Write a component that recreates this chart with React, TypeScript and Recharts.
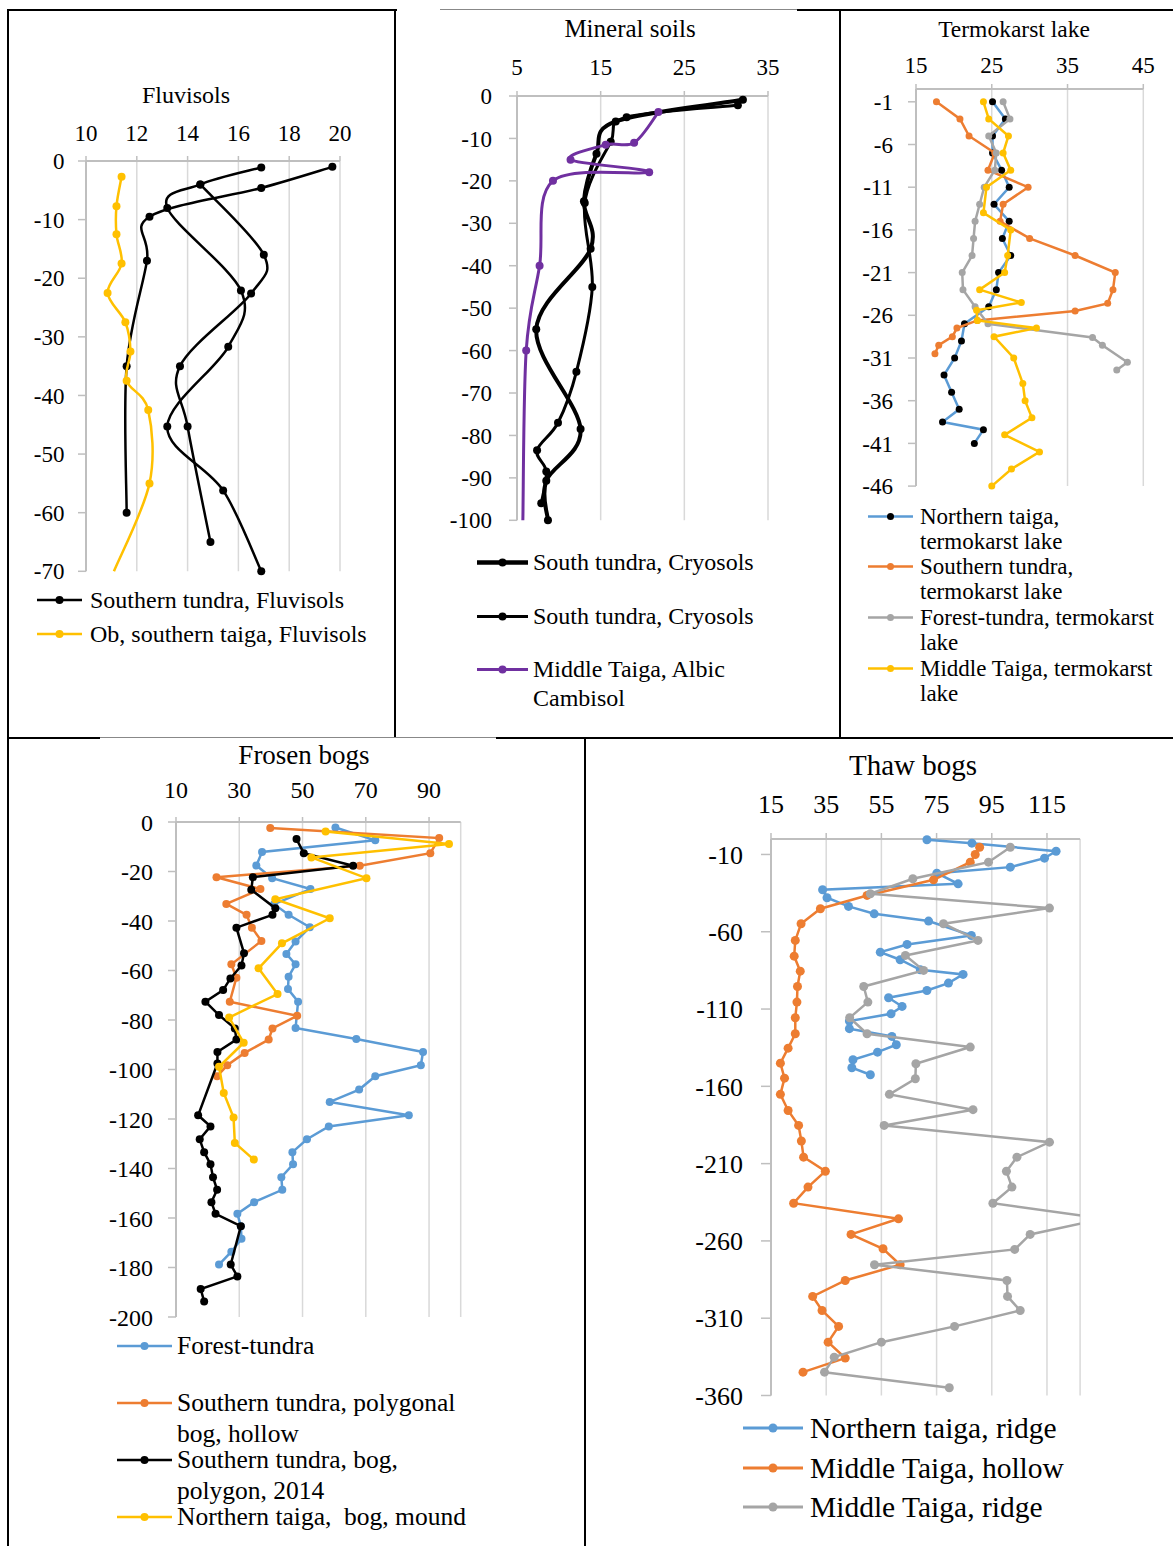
import React from 'react';
import { ScatterChart, Scatter, XAxis, YAxis, CartesianGrid } from 'recharts';

const FONT = '"Liberation Serif", "Times New Roman", serif';
const BLACK = '#000000';
const BLUE = '#5B9BD5';
const ORANGE = '#ED7D31';
const GRAY = '#A5A5A5';
const YELLOW = '#FFC000';
const PURPLE = '#7030A0';

// ---------- Fluvisols ----------
const fluvTicksX = [10, 12, 14, 16, 18, 20];
const fluvTicksY = [0, -10, -20, -30, -40, -50, -60, -70];
const fluvA_val = [19.7, 16.9, 12.5, 12.4, 11.6, 11.6];
const fluvA_dep = [-1, -4.6, -9.5, -17, -35, -60];
const fluvB_val = [16.9, 14.5, 13.2, 16.1, 15.6, 13.2, 15.4, 16.9];
const fluvB_dep = [-1.1, -4, -8, -22.1, -31.7, -45.3, -56.2, -70];
const fluvC_val = [14.5, 17.0, 16.5, 13.7, 14.0, 14.9];
const fluvC_dep = [-4, -16, -22.6, -35, -45.3, -65];
const fluvOb_val = [11.4, 11.2, 11.2, 11.4, 10.85, 11.55, 11.75, 11.6, 12.45, 12.5, 11.1];
const fluvOb_dep = [-2.7, -7.7, -12.5, -17.5, -22.5, -27.5, -32.5, -37.5, -42.5, -55, -70];

// ---------- Mineral soils ----------
const minTicksX = [5, 15, 25, 35];
const minTicksY = [0, -10, -20, -30, -40, -50, -60, -70, -80, -90, -100];
const minX_val = [32.0, 16.8, 14.5, 13.0, 13.8, 7.3, 12.6, 8.5, 8.7];
const minX_dep = [-0.9, -6.0, -13.6, -24.8, -36, -55, -78.5, -90.7, -100];
const minY_val = [31.4, 18.1, 16.2, 13.1, 14.0, 12.1, 9.9, 7.4, 8.5, 7.9];
const minY_dep = [-2.2, -5.0, -10.8, -25.2, -45, -65, -77, -83.5, -88.5, -96];
const minP_val = [21.9, 19.0, 15.6, 11.4, 20.8, 9.3, 7.7, 6.1, 5.7];
const minP_dep = [-3.8, -11, -11.5, -15, -18, -20, -40, -60, -100];

// ---------- Termokarst lake ----------
const tkTicksX = [15, 25, 35, 45];
const tkTicksY = [-1, -6, -11, -16, -21, -26, -31, -36, -41, -46];
const tkNorth_val = [25.1, 26.8, 25.1, 25.1, 26.3, 27.3, 25.3, 27.3, 26.4, 27.5, 25.9, 25.6, 24.6, 21.4, 21.0, 20.1, 18.7, 19.7, 20.7, 18.5, 23.9, 22.7];
const tkNorth_dep = [-1, -3, -5, -7, -9, -11, -13, -15, -17, -19, -21, -23, -25, -27, -29, -31, -33, -35, -37, -38.5, -39.4, -41];
const tkSouth_val = [17.7, 20.8, 22.0, 25.4, 24.5, 29.8, 26.5, 26.1, 30.0, 36.0, 41.3, 41.0, 40.3, 36.0, 23.1, 20.4, 19.8, 18.0, 17.5];
const tkSouth_dep = [-1, -3, -5, -7, -9, -11, -13, -15, -17, -19, -21, -23, -24.6, -25.5, -26.6, -27.5, -28.5, -29.5, -30.5];
const tkForest_val = [26.5, 27.4, 24.6, 25.6, 25.4, 24.0, 23.4, 22.8, 22.6, 22.4, 21.1, 21.2, 22.8, 24.5, 38.3, 39.6, 42.9, 41.5];
const tkForest_dep = [-1, -3, -5, -7, -9, -11, -13, -15, -17, -19, -21, -23, -25, -27, -28.6, -29.5, -31.5, -32.4];
const tkMiddle_val = [23.9, 24.6, 27.2, 26.5, 27.5, 24.3, 23.9, 27.5, 27.1, 26.7, 23.4, 28.9, 23.0, 23.1, 30.9, 25.3, 27.9, 29.1, 29.4, 30.3, 26.7, 31.3, 27.6, 25.0];
const tkMiddle_dep = [-1, -3, -5, -7, -9, -11, -14, -16, -19, -21, -23, -24.5, -25.4, -26.6, -27.5, -28.5, -31, -34, -36, -38, -40, -42, -44, -46];

// ---------- Frosen bogs ----------
const fbTicksX = [10, 30, 50, 70, 90];
const fbTicksY = [0, -20, -40, -60, -80, -100, -120, -140, -160, -180, -200];
const fbForest_val = [60.4, 73.0, 37.2, 35.4, 40.4, 52.5, 41.0, 45.6, 52.3, 47.8, 44.9, 47.8, 45.6, 45.4, 48.6, 47.8, 67.0, 88.1, 87.4, 73.0, 67.9, 58.6, 83.6, 58.3, 51.4, 46.8, 47.0, 43.3, 43.6, 34.7, 29.4, 30.5, 30.7, 27.5, 23.6];
const fbForest_dep = [-2.2, -7.4, -12.1, -17.6, -22.7, -27.1, -33.2, -37.5, -42.5, -48.3, -53.3, -57.5, -62.5, -67.5, -72.6, -83.2, -87.7, -92.9, -98.3, -102.7, -108.1, -113.1, -118.5, -123, -128.2, -133.4, -138.3, -143.5, -148.6, -153.6, -158.3, -163.3, -168.4, -173.6, -178.8];
const fbHollow_val = [39.8, 93.2, 90.4, 68.1, 22.8, 36.7, 25.9, 32.3, 34.0, 37.0, 27.5, 29.1, 27.0, 48.3, 40.5, 39.3, 31.7, 26.2, 23.0];
const fbHollow_dep = [-2.4, -6.5, -12.6, -17.7, -22.3, -27.1, -33.1, -37.5, -42.7, -48.1, -57.5, -62.9, -72.6, -78.3, -83.4, -87.9, -93.3, -98.3, -102.7];
const fbPolygon_val = [48.1, 50.4, 66.0, 34.3, 33.8, 41.4, 40.5, 29.1, 31.5, 30.7, 27.2, 24.9, 19.3, 23.6, 28.6, 29.1, 23.1, 23.1, 17.0, 20.9, 17.5, 18.9, 20.9, 21.7, 23.0, 21.2, 22.5, 30.5, 27.3, 29.4, 17.8, 18.9];
const fbPolygon_dep = [-6.9, -12.6, -17.7, -22.3, -27.4, -34.8, -37.5, -42.7, -53, -58, -63.2, -67.9, -72.6, -78, -83.4, -87.9, -92.9, -97.6, -118.5, -123, -128.2, -133.4, -138.3, -143.5, -148.6, -153.6, -158.3, -163.3, -178.8, -183.6, -188.7, -193.7];
const fbMound_val = [57.3, 96.3, 52.8, 70.2, 41.4, 58.6, 43.5, 36.1, 42.1, 26.8, 31.4, 23.6, 25.1, 28.2, 28.6, 34.6];
const fbMound_dep = [-3.8, -8.9, -14.3, -22.7, -31.2, -38.9, -49, -59.1, -69.5, -79, -89.2, -98.9, -109.5, -119.4, -129.7, -136.4];

// ---------- Thaw bogs ----------
const tbTicksX = [15, 35, 55, 75, 95, 115];
const tbTicksY = [-10, -60, -110, -160, -210, -260, -310, -360];
const tbRidgeN_val = [71.5, 87.8, 118.3, 114.1, 101.7, 75.1, 82.8, 33.7, 35.3, 43.1, 52.4, 72.1, 87.6, 64.3, 54.6, 61.8, 69.1, 84.6, 79.3, 71.5, 57.6, 62.5, 58.5, 43.4, 43.4, 58.8, 60.4, 53.6, 44.7, 44.3, 51.0];
const tbRidgeN_dep = [-0.5, -2.7, -7.9, -12.4, -18.2, -22.1, -29, -32.8, -38, -43.6, -48.4, -53.1, -62.4, -68.2, -73.2, -78.1, -84.6, -87.6, -93.2, -98, -102.7, -108.3, -113.1, -117.8, -122.7, -127.7, -133.1, -137.9, -142.8, -148, -152.5];
const tbHollow_val = [90.6, 89.0, 87.2, 73.9, 49.8, 32.9, 25.9, 23.8, 23.4, 25.6, 24.6, 24.4, 23.8, 23.8, 21.2, 18.4, 19.9, 18.4, 21.2, 25.0, 26.0, 26.8, 34.7, 28.4, 23.2, 61.2, 44.0, 55.6, 61.8, 41.9, 30.1, 33.5, 39.5, 35.7, 41.9, 26.6];
const tbHollow_dep = [-5.3, -10, -15, -26.4, -36.5, -45.1, -54.8, -65.6, -75.8, -85.5, -95.4, -105.5, -115.6, -126, -135.3, -145, -154.7, -165.2, -175.6, -185.3, -195.4, -205.8, -214.9, -225.2, -235.6, -245.7, -255.8, -265.1, -275.4, -285.6, -295.9, -305, -315.3, -325.5, -335.8, -344.9];
const tbRidgeM_val = [101.7, 93.8, 66.4, 51.0, 115.9, 77.5, 90.0, 63.7, 70.3, 48.6, 50.1, 43.5, 49.8, 87.2, 67.5, 67.3, 57.9, 88.2, 56.0, 115.9, 104.1, 100.3, 102.3, 95.4, 135.7, 108.9, 103.3, 52.5, 100.5, 100.7, 105.3, 81.5, 55.0, 37.9, 34.4, 79.6];
const tbRidgeM_dep = [-5.3, -15, -25.7, -35.4, -44.7, -54.8, -65.6, -75.3, -85, -95.4, -105.5, -115.6, -126, -134.6, -145.4, -155.1, -165.2, -175.1, -185.3, -196.1, -205.8, -214.9, -225.2, -235.6, -245.6, -255.8, -265.5, -275.4, -285.6, -295.9, -305, -315.3, -325.5, -335.2, -344.9, -355];

// Excel-like smoothed line (Catmull-Rom as cubic Bezier)
function excelSmooth(context: any) {
  let pts: number[][] = [];
  return {
    areaStart() {},
    areaEnd() {},
    lineStart() {
      pts = [];
    },
    lineEnd() {
      if (!pts.length) return;
      context.moveTo(pts[0][0], pts[0][1]);
      const t = 1 / 6;
      for (let i = 0; i < pts.length - 1; i++) {
        const p0 = pts[i - 1] || pts[i];
        const p1 = pts[i];
        const p2 = pts[i + 1];
        const p3 = pts[i + 2] || p2;
        context.bezierCurveTo(
          p1[0] + (p2[0] - p0[0]) * t,
          p1[1] + (p2[1] - p0[1]) * t,
          p2[0] - (p3[0] - p1[0]) * t,
          p2[1] - (p3[1] - p1[1]) * t,
          p2[0],
          p2[1]
        );
      }
    },
    point(x: number, y: number) {
      pts.push([+x, +y]);
    },
  };
}

type SeriesDef = {
  vals: number[];
  deps: number[];
  line: string;
  marker: string;
  lw: number;
  r: number;
  noMarkLast?: boolean;
};

const zip = (s: SeriesDef) =>
  s.vals.map((x, i) => ({ x, y: s.deps[i], nm: !!s.noMarkLast && i === s.vals.length - 1 }));

type PanelProps = {
  plot: { left: number; top: number; right: number; bottom: number };
  xDomain: number[];
  xTicks: number[];
  yDomain: number[];
  yTicks: number[];
  series: SeriesDef[];
  font: number;
  xTS: number;
  xTM: number;
  yTS: number;
  yTM: number;
  smooth?: boolean;
  xClip?: boolean;
};

function Panel(p: PanelProps) {
  const yW = 100;
  const xH = 60;
  const m = { top: 5, right: 15, bottom: 30, left: 5 };
  const pw = p.plot.right - p.plot.left;
  const ph = p.plot.bottom - p.plot.top;
  const W = pw + yW + m.left + m.right;
  const H = ph + xH + m.top + m.bottom;
  const tickStyle = { fontSize: p.font, fill: '#000', fontFamily: FONT };
  return (
    <div style={{ position: 'absolute', left: p.plot.left - yW - m.left, top: p.plot.top - xH - m.top, width: W, height: H }}>
      <ScatterChart width={W} height={H} margin={m} style={{ fontFamily: FONT }}>
        <CartesianGrid horizontal={false} stroke="#D9D9D9" strokeWidth={1.5} />
        <XAxis
          type="number"
          dataKey="x"
          orientation="top"
          height={xH}
          domain={p.xDomain}
          ticks={p.xTicks}
          interval={0}
          allowDataOverflow={!!p.xClip}
          axisLine={{ stroke: '#BFBFBF', strokeWidth: 2 }}
          tickLine={{ stroke: '#BFBFBF', strokeWidth: 1.5 }}
          tickSize={p.xTS}
          tickMargin={p.xTM}
          tick={tickStyle}
        />
        <YAxis
          type="number"
          dataKey="y"
          width={yW}
          domain={p.yDomain}
          ticks={p.yTicks}
          interval={0}
          axisLine={{ stroke: '#BFBFBF', strokeWidth: 2 }}
          tickLine={{ stroke: '#BFBFBF', strokeWidth: 1.5 }}
          tickSize={p.yTS}
          tickMargin={p.yTM}
          tick={tickStyle}
        />
        {p.series.map((s, i) => (
          <Scatter
            key={i}
            data={zip(s)}
            fill={s.line}
            line={{ stroke: s.line, strokeWidth: s.lw }}
            lineJointType={p.smooth ? (excelSmooth as any) : 'linear'}
            isAnimationActive={false}
            shape={(q: any) =>
              q.payload && q.payload.nm ? <g /> : <circle cx={q.cx} cy={q.cy} r={s.r} fill={s.marker} />
            }
          />
        ))}
      </ScatterChart>
    </div>
  );
}

type LegendItem = { lines: string[]; line: string; marker: string; lw: number; r: number; y: number };

// y = centre of the first text line; gap = distance between wrapped lines; lh = line box height
function Legend({ items, iconX, iconW, textX, font, lh, gap }: { items: LegendItem[]; iconX: number; iconW: number; textX: number; font: number; lh: number; gap: number }) {
  return (
    <>
      {items.map((it, i) => (
        <React.Fragment key={i}>
          <svg width={iconW} height={lh} style={{ position: 'absolute', left: iconX, top: it.y - lh / 2, display: 'block' }}>
            <line x1={0} x2={iconW} y1={lh / 2} y2={lh / 2} stroke={it.line} strokeWidth={it.lw} />
            <circle cx={iconW / 2} cy={lh / 2} r={it.r} fill={it.marker} />
          </svg>
          {it.lines.map((l, j) => (
            <div
              key={j}
              style={{
                position: 'absolute',
                left: textX,
                top: it.y + j * gap - lh / 2,
                height: lh,
                lineHeight: lh + 'px',
                fontFamily: FONT,
                fontSize: font,
                whiteSpace: 'pre',
                color: '#000',
              }}
            >
              {l}
            </div>
          ))}
        </React.Fragment>
      ))}
    </>
  );
}

function Title({ text, cx, cy, font }: { text: string; cx: number; cy: number; font: number }) {
  return (
    <div style={{ position: 'absolute', left: cx - 200, width: 400, top: cy - font * 0.6, lineHeight: font * 1.2 + 'px', textAlign: 'center', fontFamily: FONT, fontSize: font, color: '#000' }}>
      {text}
    </div>
  );
}

function Rule({ x, y, w, h, c = '#000' }: { x: number; y: number; w: number; h: number; c?: string }) {
  return <div style={{ position: 'absolute', left: x, top: y, width: w, height: h, background: c }} />;
}

export default function App() {
  const fluvSeries: SeriesDef[] = [
    { vals: fluvA_val, deps: fluvA_dep, line: BLACK, marker: BLACK, lw: 2.5, r: 4 },
    { vals: fluvB_val, deps: fluvB_dep, line: BLACK, marker: BLACK, lw: 2.5, r: 4 },
    { vals: fluvC_val, deps: fluvC_dep, line: BLACK, marker: BLACK, lw: 2.5, r: 4 },
    { vals: fluvOb_val, deps: fluvOb_dep, line: YELLOW, marker: YELLOW, lw: 2.5, r: 4, noMarkLast: true },
  ];
  const minSeries: SeriesDef[] = [
    { vals: minX_val, deps: minX_dep, line: BLACK, marker: BLACK, lw: 4, r: 4 },
    { vals: minY_val, deps: minY_dep, line: BLACK, marker: BLACK, lw: 3, r: 4 },
    { vals: minP_val, deps: minP_dep, line: PURPLE, marker: PURPLE, lw: 3, r: 4, noMarkLast: true },
  ];
  const tkSeries: SeriesDef[] = [
    { vals: tkNorth_val, deps: tkNorth_dep, line: BLUE, marker: BLACK, lw: 2.5, r: 3.5 },
    { vals: tkSouth_val, deps: tkSouth_dep, line: ORANGE, marker: ORANGE, lw: 2.5, r: 3.5 },
    { vals: tkForest_val, deps: tkForest_dep, line: GRAY, marker: GRAY, lw: 2.5, r: 3.5 },
    { vals: tkMiddle_val, deps: tkMiddle_dep, line: YELLOW, marker: YELLOW, lw: 2.5, r: 3.5 },
  ];
  const fbSeries: SeriesDef[] = [
    { vals: fbForest_val, deps: fbForest_dep, line: BLUE, marker: BLUE, lw: 2.5, r: 4 },
    { vals: fbHollow_val, deps: fbHollow_dep, line: ORANGE, marker: ORANGE, lw: 2.5, r: 4 },
    { vals: fbPolygon_val, deps: fbPolygon_dep, line: BLACK, marker: BLACK, lw: 2.5, r: 4 },
    { vals: fbMound_val, deps: fbMound_dep, line: YELLOW, marker: YELLOW, lw: 2.5, r: 4 },
  ];
  const tbSeries: SeriesDef[] = [
    { vals: tbRidgeN_val, deps: tbRidgeN_dep, line: BLUE, marker: BLUE, lw: 2.5, r: 4.5 },
    { vals: tbHollow_val, deps: tbHollow_dep, line: ORANGE, marker: ORANGE, lw: 2.5, r: 4.5 },
    { vals: tbRidgeM_val, deps: tbRidgeM_dep, line: GRAY, marker: GRAY, lw: 2.5, r: 4.5 },
  ];

  return (
    <div style={{ position: 'absolute', left: 0, top: 0, width: 1173, height: 1546, background: '#fff', overflow: 'hidden' }}>
      {/* frame */}
      <Rule x={7} y={9} w={390} h={2} />
      <Rule x={440} y={9} w={357} h={1} c="#888" />
      <Rule x={797} y={9} w={376} h={2} />
      <Rule x={7} y={9} w={2} h={1537} />
      <Rule x={394} y={9} w={2} h={729} />
      <Rule x={839} y={9} w={2} h={729} />
      <Rule x={7} y={737} w={93} h={2} />
      <Rule x={100} y={737} w={396} h={1} c="#888" />
      <Rule x={496} y={737} w={677} h={2} />
      <Rule x={584} y={737} w={2} h={809} />

      {/* Fluvisols */}
      <Title text="Fluvisols" cx={186} cy={95} font={24} />
      <Panel
        plot={{ left: 86.3, top: 160.7, right: 340.3, bottom: 571 }}
        xDomain={[10, 20]}
        xTicks={fluvTicksX}
        yDomain={[-70, 0]}
        yTicks={fluvTicksY}
        series={fluvSeries}
        font={23}
        xTS={5}
        xTM={15}
        yTS={8}
        yTM={13.5}
        smooth
      />
      <Legend
        iconX={37}
        iconW={45}
        textX={90}
        font={24}
        lh={30}
        gap={30}
        items={[
          { lines: ['Southern tundra, Fluvisols'], line: BLACK, marker: BLACK, lw: 2.5, r: 4, y: 600 },
          { lines: ['Ob, southern taiga, Fluvisols'], line: YELLOW, marker: YELLOW, lw: 2.5, r: 4, y: 634 },
        ]}
      />

      {/* Mineral soils */}
      <Title text="Mineral soils" cx={630} cy={29} font={25} />
      <Panel
        plot={{ left: 517.3, top: 95.7, right: 768.3, bottom: 520 }}
        xDomain={[5, 35]}
        xTicks={minTicksX}
        yDomain={[-100, 0]}
        yTicks={minTicksY}
        series={minSeries}
        font={23}
        xTS={5}
        xTM={16}
        yTS={8}
        yTM={17}
        smooth
      />
      <Legend
        iconX={477}
        iconW={51}
        textX={533}
        font={24}
        lh={29}
        gap={29}
        items={[
          { lines: ['South tundra, Cryosols'], line: BLACK, marker: BLACK, lw: 4.5, r: 4, y: 562 },
          { lines: ['South tundra, Cryosols'], line: BLACK, marker: BLACK, lw: 3, r: 4, y: 616 },
          { lines: ['Middle Taiga, Albic', 'Cambisol'], line: PURPLE, marker: PURPLE, lw: 3, r: 4, y: 669 },
        ]}
      />

      {/* Termokarst lake */}
      <Title text="Termokarst lake" cx={1014} cy={29} font={23.5} />
      <Panel
        plot={{ left: 916, top: 88.9, right: 1143.3, bottom: 486 }}
        xDomain={[15, 45]}
        xTicks={tkTicksX}
        yDomain={[-46, 0.5]}
        yTicks={tkTicksY}
        series={tkSeries}
        font={23}
        xTS={5}
        xTM={10.5}
        yTS={8}
        yTM={15}
      />
      <Legend
        iconX={868}
        iconW={45}
        textX={920}
        font={23}
        lh={25}
        gap={25.5}
        items={[
          { lines: ['Northern taiga,', 'termokarst lake'], line: BLUE, marker: BLACK, lw: 2.5, r: 3.5, y: 516 },
          { lines: ['Southern tundra,', 'termokarst lake'], line: ORANGE, marker: ORANGE, lw: 2.5, r: 3.5, y: 566 },
          { lines: ['Forest-tundra, termokarst', 'lake'], line: GRAY, marker: GRAY, lw: 2.5, r: 3.5, y: 617 },
          { lines: ['Middle Taiga, termokarst', 'lake'], line: YELLOW, marker: YELLOW, lw: 2.5, r: 3.5, y: 668 },
        ]}
      />

      {/* Frosen bogs */}
      <Title text="Frosen bogs" cx={304} cy={755} font={27} />
      <Panel
        plot={{ left: 176.3, top: 822, right: 461, bottom: 1317 }}
        xDomain={[10, 100]}
        xTicks={fbTicksX}
        yDomain={[-200, 0]}
        yTicks={fbTicksY}
        series={fbSeries}
        font={24}
        xTS={5}
        xTM={19}
        yTS={8}
        yTM={15}
      />
      <Legend
        iconX={117}
        iconW={55}
        textX={177}
        font={25.5}
        lh={26}
        gap={31}
        items={[
          { lines: ['Forest-tundra'], line: BLUE, marker: BLUE, lw: 2.5, r: 4, y: 1346 },
          { lines: ['Southern tundra, polygonal', 'bog, hollow'], line: ORANGE, marker: ORANGE, lw: 2.5, r: 4, y: 1403 },
          { lines: ['Southern tundra, bog,', 'polygon, 2014'], line: BLACK, marker: BLACK, lw: 2.5, r: 4, y: 1460 },
          { lines: ['Northern taiga,  bog, mound'], line: YELLOW, marker: YELLOW, lw: 2.5, r: 4, y: 1517 },
        ]}
      />

      {/* Thaw bogs */}
      <Title text="Thaw bogs" cx={913} cy={765} font={29} />
      <Panel
        plot={{ left: 770.7, top: 838.5, right: 1079.8, bottom: 1395 }}
        xDomain={[15, 127]}
        xTicks={tbTicksX}
        yDomain={[-360, 0]}
        yTicks={tbTicksY}
        series={tbSeries}
        font={26}
        xTS={6}
        xTM={20}
        yTS={10}
        yTM={18}
        xClip
      />
      <Legend
        iconX={743}
        iconW={60}
        textX={810}
        font={29.5}
        lh={34}
        gap={34}
        items={[
          { lines: ['Northern taiga, ridge'], line: BLUE, marker: BLUE, lw: 3, r: 4.5, y: 1428 },
          { lines: ['Middle Taiga, hollow'], line: ORANGE, marker: ORANGE, lw: 3, r: 4.5, y: 1468 },
          { lines: ['Middle Taiga, ridge'], line: GRAY, marker: GRAY, lw: 3, r: 4.5, y: 1507 },
        ]}
      />
    </div>
  );
}
